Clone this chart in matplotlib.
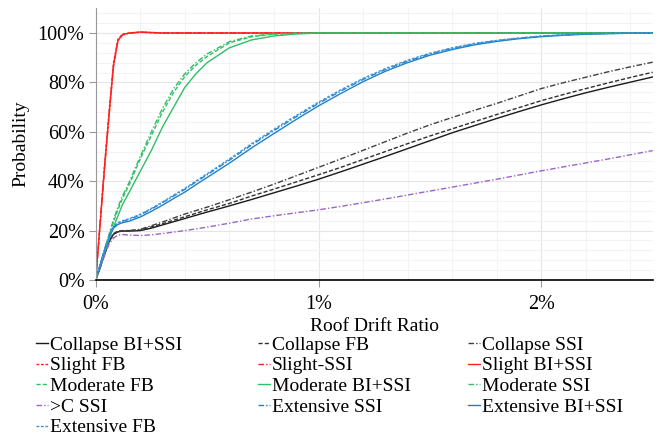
import matplotlib
matplotlib.use("Agg")
import matplotlib.pyplot as plt
from matplotlib.ticker import MultipleLocator, PercentFormatter

# ---- data (x: roof drift ratio in %, y: probability in %) ----
drift = [0, 0.02, 0.04, 0.06, 0.08, 0.10, 0.12, 0.15, 0.2, 0.25, 0.3, 0.35, 0.4, 0.45,
         0.5, 0.6, 0.7, 0.8, 0.9, 1.0, 1.1, 1.2, 1.3, 1.4, 1.5, 1.6, 1.7, 1.8, 1.9,
         2.0, 2.1, 2.2, 2.3, 2.4, 2.5]

slight_bi = [0, 23, 46, 67, 87, 97, 99.3, 100, 100.4, 100.2, 100] + [100] * 24
slight_fb = [0, 23.5, 47, 68, 88, 97.5, 99.5, 100, 100.3, 100.1, 100] + [100] * 24
slight_ssi = [0, 22.5, 45.5, 66.5, 86.5, 96.8, 99.2, 99.9, 100.3, 100.2, 100] + [100] * 24

moderate_bi = [0, 5.5, 11, 16.5, 21.5, 26, 30.5, 35.5, 44, 52.5, 62, 70, 78, 83.5, 88,
               94, 97.2, 98.8, 99.6, 100] + [100] * 15
moderate_fb = [0, 6, 12, 18, 23.5, 28.5, 33, 38.5, 49, 58.5, 68, 76, 82.4, 87, 90.5,
               96, 98.5, 99.5, 99.9, 100] + [100] * 15
moderate_ssi = [0, 6.2, 12.5, 18.5, 24.5, 29.5, 34, 39.5, 50, 60, 69.5, 77.5, 83.5, 88, 91.5,
                96.5, 98.8, 99.6, 99.95, 100] + [100] * 15

extensive_bi = [0, 6, 12, 17.5, 21, 22.5, 23.2, 23.8, 25.5, 27.8, 30.3, 33, 35.6, 38.6, 41.5,
                47.3, 53.5, 59.3, 65, 70.5, 75.5, 80.3, 84.5, 88, 91, 93.3, 95.2, 96.6, 97.7,
                98.5, 99.1, 99.5, 99.75, 99.9, 100]
extensive_fb = [0, 6.2, 12.3, 18, 21.6, 23.2, 24, 24.8, 26.6, 29, 31.6, 34.4, 37.1, 40.1, 43,
                49, 55.2, 61, 66.6, 72, 77, 81.6, 85.6, 89, 91.8, 94, 95.8, 97, 98,
                98.8, 99.3, 99.6, 99.8, 99.95, 100]
extensive_ssi = [0, 6.1, 12.2, 17.8, 21.4, 23, 23.8, 24.5, 26.3, 28.7, 31.3, 34, 36.7, 39.7, 42.6,
                 48.5, 54.7, 60.5, 66.1, 71.5, 76.5, 81.2, 85.2, 88.6, 91.5, 93.8, 95.6, 96.9, 97.9,
                 98.7, 99.2, 99.6, 99.8, 99.95, 100]

collapse_bi = [0, 5, 10.5, 15.5, 18.5, 19.5, 19.8, 19.8, 20, 21, 22.3, 23.6, 24.9, 26.2, 27.5,
               30, 32.6, 35.3, 38, 40.8, 43.8, 46.9, 50, 53.2, 56.4, 59.6, 62.5, 65.4, 68.2,
               70.9, 73.4, 75.8, 78, 80.1, 82.2]
collapse_fb = [0, 5.2, 10.8, 15.8, 18.8, 19.8, 20, 20, 20.2, 21.5, 22.8, 24.2, 25.6, 27, 28.4,
               31, 34, 36.8, 39.7, 42.6, 45.6, 48.8, 52, 55.2, 58.3, 61.2, 64.1, 67, 69.8,
               72.6, 75.1, 77.5, 79.8, 82, 84.1]
collapse_ssi = [0, 5.1, 10.6, 15.6, 18.6, 19.6, 19.9, 20, 20.5, 22, 23.5, 25.1, 26.7, 28.1, 29.5,
                32.5, 35.6, 38.8, 42.2, 45.6, 49, 52.5, 56, 59.5, 62.8, 65.8, 68.7, 71.5, 74.5,
                77.5, 79.9, 82.1, 84.3, 86.3, 88.2]
beyond_c_ssi = [0, 5, 10, 14.5, 17, 18.2, 18.4, 18.2, 18, 18.3, 18.8, 19.4, 20, 20.7, 21.4,
                23, 24.7, 26, 27.2, 28.4, 29.8, 31.3, 32.8, 34.4, 36, 37.6, 39.2, 40.8, 42.5,
                44.2, 45.8, 47.4, 49, 50.7, 52.4]

x_ticks = [0, 1, 2]
y_ticks = [0, 20, 40, 60, 80, 100]

# ---- styles ----
BLACK = "#1a1a1a"
RED = "#ff2020"
GREEN = "#2fbf66"
PURPLE = "#9a66c8"
BLUE = "#2080cc"
DASH = (0, (3, 1.5))
DASHDOT = (0, (4, 1.5, 1, 1.5))
DOT = (0, (2, 1.2))

series = [
    ("Collapse BI+SSI", collapse_bi, BLACK, "-"),
    ("Collapse FB", collapse_fb, "#303030", DASH),
    ("Collapse SSI", collapse_ssi, "#404040", DASHDOT),
    ("Slight FB", slight_fb, RED, DOT),
    ("Slight-SSI", slight_ssi, RED, DASHDOT),
    ("Slight BI+SSI", slight_bi, RED, "-"),
    ("Moderate FB", moderate_fb, GREEN, DASH),
    ("Moderate BI+SSI", moderate_bi, GREEN, "-"),
    ("Moderate SSI", moderate_ssi, GREEN, DASHDOT),
    (">C SSI", beyond_c_ssi, PURPLE, DASHDOT),
    ("Extensive SSI", extensive_ssi, BLUE, DASHDOT),
    ("Extensive BI+SSI", extensive_bi, BLUE, "-"),
    ("Extensive FB", extensive_fb, "#3a96dd", DOT),
]

plt.rcParams["font.family"] = ["Liberation Serif", "DejaVu Serif"]

fig = plt.figure(figsize=(6.62, 4.37), dpi=100)
ax = fig.add_axes([95.7 / 662, 1 - 280 / 437, (652.7 - 95.7) / 662, (280 - 8.3) / 437])

lines = {}
for label, ys, color, ls in series:
    ln, = ax.plot(drift, ys, color=color, linestyle=ls, linewidth=1.0, label=label)
    lines[label] = ln

ax.set_xlim(0, 2.5)
ax.set_ylim(0, 110)
ax.set_xticks(x_ticks)
ax.set_yticks(y_ticks)
ax.xaxis.set_minor_locator(MultipleLocator(0.2))
ax.yaxis.set_minor_locator(MultipleLocator(4))
ax.xaxis.set_major_formatter(PercentFormatter(100, decimals=0))
ax.yaxis.set_major_formatter(PercentFormatter(100, decimals=0))
ax.grid(which="major", color="#e6e6e6", linewidth=0.8)
ax.grid(which="minor", color="#f3f3f3", linewidth=0.8)
ax.set_axisbelow(True)

for s in ("top", "right"):
    ax.spines[s].set_visible(False)
ax.spines["left"].set_color("#999999")
ax.spines["bottom"].set_color("black")
ax.spines["bottom"].set_linewidth(1.2)
ax.tick_params(which="major", length=5, color="#999999", labelsize=14.5, pad=3)
ax.tick_params(which="minor", length=0)
ax.tick_params(axis="x", pad=6)

ax.set_ylabel("Probability", fontsize=14, labelpad=6)
ax.set_xlabel("Roof Drift Ratio", fontsize=14, labelpad=3)

columns = [
    ["Collapse BI+SSI", "Slight FB", "Moderate FB", ">C SSI", "Extensive FB"],
    ["Collapse FB", "Slight-SSI", "Moderate BI+SSI", "Extensive SSI"],
    ["Collapse SSI", "Slight BI+SSI", "Moderate SSI", "Extensive BI+SSI"],
]
col_x = [36, 258, 468]
for cx, labels in zip(col_x, columns):
    fig.legend([lines[l] for l in labels], labels, loc="upper left",
               bbox_to_anchor=(cx / 662, 1 - 336 / 437), frameon=False,
               fontsize=14, handlelength=0.6, handletextpad=0.1,
               labelspacing=0.16, borderpad=0, borderaxespad=0)

fig.savefig("out.png", dpi=100)
